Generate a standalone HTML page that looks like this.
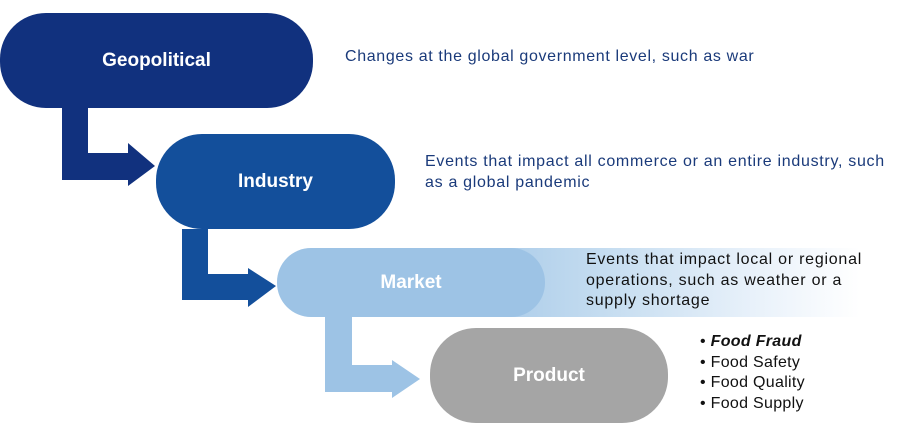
<!DOCTYPE html>
<html><head><style>
body{margin:0;width:900px;height:441px;background:#fff;position:relative;overflow:hidden;font-family:"Liberation Sans",sans-serif}
.b{position:absolute;color:#fff;font-weight:bold;font-size:19px;display:flex;align-items:center;justify-content:center}
.t{position:absolute;font-size:16px;letter-spacing:0.6px;line-height:20.5px;white-space:nowrap}
</style></head><body>
<div style="position:absolute;left:430px;top:248px;width:430px;height:69px;background:linear-gradient(to right,#9dc3e5 0%,#c4dcf0 40%,#e8f1fa 75%,#fff 100%)"></div>
<svg width="900" height="441" style="position:absolute;left:0;top:0">
<path d="M62 108H88V153H128V143L155 166L128 186V180H62Z" fill="#11317e"/>
<path d="M182 229H208V274H248V268L276 286L248 307V300H182Z" fill="#134f9b"/>
<path d="M325 317H352V365H392V360L420 379L392 398V392H325Z" fill="#9dc3e5"/>
</svg>
<div class="b" style="left:0;top:13px;width:313px;height:95px;border-radius:46px;background:#11317e">Geopolitical</div>
<div class="b" style="left:156px;top:134px;width:239px;height:95px;border-radius:46px;background:#134f9b">Industry</div>
<div class="b" style="left:277px;top:248px;width:268px;height:69px;border-radius:34px;background:#9dc3e5">Market</div>
<div class="b" style="left:430px;top:328px;width:238px;height:95px;border-radius:46px;background:#a5a5a5">Product</div>
<div class="t" style="left:345px;top:47px;color:#1a3a7a;letter-spacing:0.65px">Changes at the global government level, such as war</div>
<div class="t" style="left:425px;top:152px;color:#1a3a7a;letter-spacing:0.7px">Events that impact all commerce or an entire industry, such<br>as a global pandemic</div>
<div class="t" style="left:586px;top:250px;color:#111;letter-spacing:0.75px">Events that impact local or regional<br>operations, such as weather or a<br>supply shortage</div>
<div class="t" style="left:700px;top:332px;color:#111;letter-spacing:0.3px">• <b><i>Food Fraud</i></b><br>• Food Safety<br>• Food Quality<br>• Food Supply</div>
</body></html>
